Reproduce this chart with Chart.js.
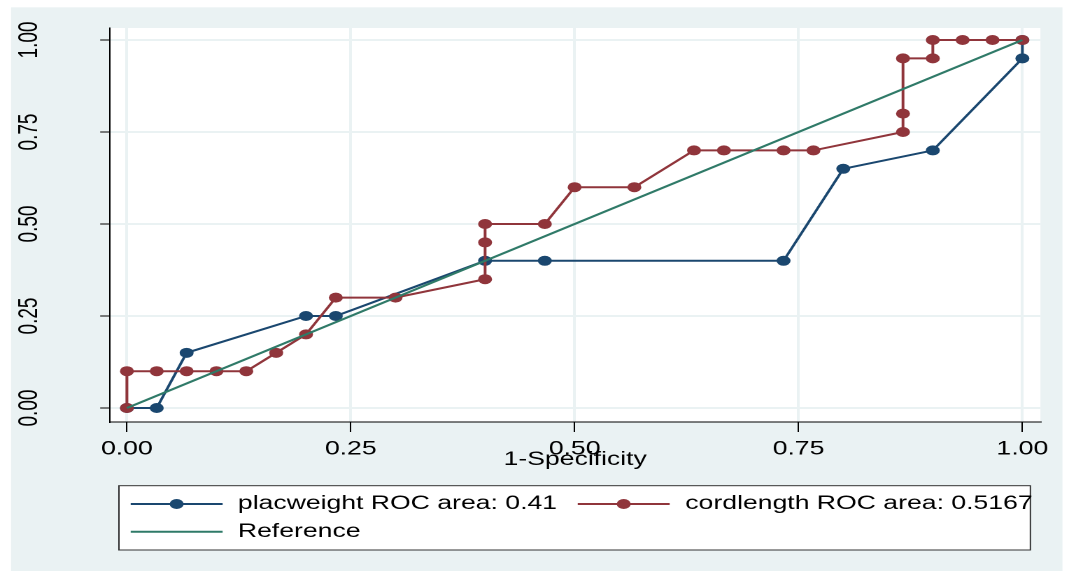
<!DOCTYPE html>
<html>
<head>
<meta charset="utf-8">
<script src="https://cdn.jsdelivr.net/npm/chart.js@4.4.1/dist/chart.umd.min.js"></script>
<style>
html, body { margin: 0; padding: 0; background: #fff; overflow: hidden; }
/* the reference is a stretched Stata graph, so draw narrow and stretch sideways */
#wrap { width: 764px; height: 571px; transform: scaleX(1.3992); transform-origin: 0 0; }
</style>
</head>
<body>
<div id="wrap"><canvas id="chart" width="764" height="571"></canvas></div>
<script>
// -------------------------- data

const tickValues = [0, 0.25, 0.5, 0.75, 1];

const placLabel = 'placweight ROC area: 0.41';
const placFpr = [0, 0.0333, 0.0667, 0.2, 0.2333, 0.4, 0.4667, 0.7333, 0.8, 0.9, 1, 1];
const placTpr = [0, 0, 0.15, 0.25, 0.25, 0.4, 0.4, 0.4, 0.65, 0.7, 0.95, 1];

const cordLabel = 'cordlength ROC area: 0.5167';
const cordFpr = [0, 0, 0.0333, 0.0667, 0.1, 0.1333, 0.1667, 0.2, 0.2333, 0.3, 0.4, 0.4, 0.4, 0.4667,
                 0.5, 0.5667, 0.6333, 0.6667, 0.7333, 0.7667, 0.8667, 0.8667, 0.8667, 0.9, 0.9, 0.9333, 0.9667, 1];
const cordTpr = [0, 0.1, 0.1, 0.1, 0.1, 0.1, 0.15, 0.2, 0.3, 0.3, 0.35, 0.45, 0.5, 0.5,
                 0.6, 0.6, 0.7, 0.7, 0.7, 0.7, 0.75, 0.8, 0.95, 0.95, 1, 1, 1, 1];

const refLabel = 'Reference';
const refX = [0, 1];
const refY = [0, 1];

// --------------------------- styles

const COLORS = {
    navy: '#1a476f',
    maroon: '#90353b',
    green: '#2f7a68',
    bg: '#eaf2f3',
    grid: '#eaf2f3',
};

const FONT = { family: "'Liberation Sans', Arial, sans-serif", size: 19, lineHeight: 1.2 };

function toPoints(xs, ys) {
    return xs.map((x, i) => ({ x: x, y: ys[i] }));
}

function fixedTicks(scale) {
    scale.ticks = tickValues.map(v => ({ value: v }));
}

// no extra room for overhanging tick labels, the plot box is fixed
function noLabelPadding(scale) {
    scale.paddingTop = 0;
    scale.paddingBottom = 0;
    scale.paddingLeft = 0;
    scale.paddingRight = 0;
}

// background + white plot region
const backdrop = {
    id: 'backdrop',
    beforeDraw(chart) {
        const { ctx, chartArea } = chart;
        ctx.save();
        ctx.fillStyle = COLORS.bg;
        ctx.fillRect(7.9, 7.3, 751.4, 564);
        ctx.fillStyle = '#fff';
        ctx.fillRect(chartArea.left, chartArea.top, chartArea.right - chartArea.left, chartArea.bottom - chartArea.top);
        ctx.restore();
    }
};

// boxed legend in two columns like Stata's
const boxLegend = {
    id: 'boxLegend',
    afterDraw(chart) {
        const ctx = chart.ctx;
        const ds = chart.data.datasets;
        const slots = [
            { x0: 93.4, x1: 159.1, tx: 170, y: 504 },
            { x0: 412.9, x1: 478.6, tx: 489.8, y: 504 },
            { x0: 93.4, x1: 159.1, tx: 170, y: 531.7 },
        ];
        ctx.save();
        ctx.fillStyle = '#fff';
        ctx.fillRect(85, 485.7, 651.4, 64.3);
        ctx.strokeStyle = '#333';
        ctx.lineWidth = 1;
        ctx.strokeRect(85, 485.7, 651.4, 64.3);

        ctx.font = FONT.size + 'px ' + FONT.family;
        ctx.textBaseline = 'middle';
        ds.forEach((d, i) => {
            const s = slots[i];
            ctx.strokeStyle = d.borderColor;
            ctx.lineWidth = 2;
            ctx.beginPath();
            ctx.moveTo(s.x0, s.y);
            ctx.lineTo(s.x1, s.y);
            ctx.stroke();
            if (d.pointRadius > 0) {
                ctx.fillStyle = d.backgroundColor;
                ctx.beginPath();
                ctx.arc((s.x0 + s.x1) / 2, s.y, d.pointRadius, 0, Math.PI * 2);
                ctx.fill();
            }
            ctx.fillStyle = '#000';
            ctx.fillText(d.label, s.tx, s.y);
        });
        ctx.restore();
    }
};

const ctx = document.getElementById('chart');

new Chart(ctx, {
    type: 'scatter',
    data: {
        datasets: [
            {
                label: placLabel,
                data: toPoints(placFpr, placTpr),
                borderColor: COLORS.navy,
                backgroundColor: COLORS.navy,
                borderWidth: 2,
                pointRadius: 5,
                pointBorderWidth: 0,
                showLine: true,
                order: 3
            },
            {
                label: cordLabel,
                data: toPoints(cordFpr, cordTpr),
                borderColor: COLORS.maroon,
                backgroundColor: COLORS.maroon,
                borderWidth: 2,
                pointRadius: 5,
                pointBorderWidth: 0,
                showLine: true,
                order: 2
            },
            {
                label: refLabel,
                data: toPoints(refX, refY),
                borderColor: COLORS.green,
                backgroundColor: COLORS.green,
                borderWidth: 2,
                pointRadius: 0,
                showLine: true,
                order: 1
            }
        ]
    },
    options: {
        responsive: false,
        animation: false,
        devicePixelRatio: 2,
        events: [],
        layout: {
            padding: { left: 0, top: 28, right: 20.4, bottom: 99.6 }
        },
        plugins: {
            legend: { display: false },
            tooltip: { enabled: false }
        },
        scales: {
            x: {
                type: 'linear',
                min: -0.0189,
                max: 1.0202,
                afterBuildTicks: fixedTicks,
                afterFit: s => { s.height = 49.4; noLabelPadding(s); },
                grid: { color: COLORS.grid, lineWidth: 2, tickLength: 10, tickColor: '#000', tickWidth: 1 },
                border: { color: '#000', width: 1 },
                ticks: {
                    color: '#000',
                    font: FONT,
                    padding: 6,
                    maxRotation: 0,
                    autoSkip: false,
                    callback: v => v.toFixed(2)
                },
                title: {
                    display: true,
                    text: '1-Specificity',
                    color: '#000',
                    font: FONT,
                    padding: 0
                }
            },
            y: {
                type: 'linear',
                min: -0.038,
                max: 1.0326,
                afterBuildTicks: fixedTicks,
                afterFit: s => { s.width = 78.6; noLabelPadding(s); },
                grid: { color: COLORS.grid, lineWidth: 2, tickLength: 7, tickColor: '#000', tickWidth: 1 },
                border: { color: '#000', width: 1 },
                ticks: {
                    color: '#000',
                    font: FONT,
                    padding: 32,
                    minRotation: 90,
                    maxRotation: 90,
                    crossAlign: 'center',
                    autoSkip: false,
                    callback: v => v.toFixed(2)
                }
            }
        }
    },
    plugins: [backdrop, boxLegend]
});
</script>
</body>
</html>
